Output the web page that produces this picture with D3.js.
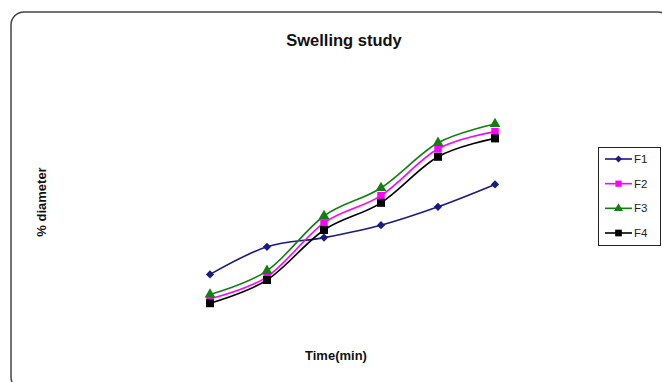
<!DOCTYPE html>
<html>
<head>
<meta charset="utf-8">
<script src="https://cdnjs.cloudflare.com/ajax/libs/d3/7.8.5/d3.min.js"></script>
<style>
  html, body { margin: 0; padding: 0; background: #fff; }
  svg { display: block; }
  text { font-family: "Liberation Sans", Arial, sans-serif; }
</style>
</head>
<body>
<svg id="chart" width="662" height="382"></svg>
<script>
// Sampling times (min) and swelling (% diameter) for each formulation
const times = [15, 30, 45, 60, 75, 90];
const f1 = [16.4, 23.3, 25.6, 28.7, 33.3, 38.9];
const f2 = [10.3, 15.8, 29.3, 36.1, 47.8, 52.1];
const f3 = [11.4, 17.3, 31.0, 38.0, 49.3, 54.0];
const f4 = [9.2, 15.0, 27.5, 34.3, 45.8, 50.4];
const seriesNames = ["F1", "F2", "F3", "F4"];
const yDomain = [0, 60];

// diamonds are drawn as squares turned by 45 degrees
const series = [
  { name: seriesNames[0], values: f1, color: "#1a1a80", symbol: d3.symbolSquare, size: 34, rot: 45 },
  { name: seriesNames[1], values: f2, color: "#ff00ff", symbol: d3.symbolSquare, size: 56, rot: 0 },
  { name: seriesNames[2], values: f3, color: "#118011", symbol: d3.symbolTriangle, size: 50, rot: 0 },
  { name: seriesNames[3], values: f4, color: "#000000", symbol: d3.symbolSquare, size: 64, rot: 0 }
];

const svg = d3.select("#chart");

// outer chart frame with rounded corners (runs past the right and bottom edges)
svg.append("rect")
  .attr("x", 11).attr("y", 12)
  .attr("width", 660).attr("height", 378)
  .attr("rx", 13).attr("ry", 13)
  .attr("fill", "#fff")
  .attr("stroke", "#444")
  .attr("stroke-width", 1.5);

const x = d3.scalePoint().domain(times).range([210, 495]);
const y = d3.scaleLinear().domain(yDomain).range([340, 100]);

svg.append("text")
  .attr("x", 344).attr("y", 46)
  .attr("text-anchor", "middle")
  .attr("font-size", 16.5).attr("font-weight", "bold")
  .attr("fill", "#111")
  .text("Swelling study");

svg.append("text")
  .attr("x", 336).attr("y", 360)
  .attr("text-anchor", "middle")
  .attr("font-size", 13).attr("font-weight", "bold")
  .attr("fill", "#111")
  .text("Time(min)");

svg.append("text")
  .attr("transform", "translate(46,202) rotate(-90)")
  .attr("text-anchor", "middle")
  .attr("font-size", 13).attr("font-weight", "bold")
  .attr("fill", "#111")
  .text("% diameter");

const line = d3.line()
  .x((d, i) => x(times[i]))
  .y(d => y(d))
  .curve(d3.curveCardinal.tension(0));

const g = svg.append("g");

series.forEach(s => {
  g.append("path")
    .attr("d", line(s.values))
    .attr("fill", "none")
    .attr("stroke", s.color)
    .attr("stroke-width", 1.6);
});

series.forEach(s => {
  g.selectAll(null)
    .data(s.values)
    .join("path")
    .attr("transform", (d, i) => `translate(${x(times[i])},${y(d)}) rotate(${s.rot})`)
    .attr("d", d3.symbol().type(s.symbol).size(s.size))
    .attr("fill", s.color);
});

// legend
const legend = svg.append("g");
legend.append("rect")
  .attr("x", 598.5).attr("y", 147.5)
  .attr("width", 62).attr("height", 98)
  .attr("fill", "#fff")
  .attr("stroke", "#222")
  .attr("stroke-width", 1);

const ly = d3.scalePoint().domain(seriesNames).range([159, 233]);

series.forEach(s => {
  const yy = ly(s.name);
  legend.append("line")
    .attr("x1", 605).attr("x2", 632)
    .attr("y1", yy).attr("y2", yy)
    .attr("stroke", s.color).attr("stroke-width", 1.6);
  legend.append("path")
    .attr("transform", `translate(618.5,${yy}) rotate(${s.rot})`)
    .attr("d", d3.symbol().type(s.symbol).size(s.size * 0.7))
    .attr("fill", s.color);
  legend.append("text")
    .attr("x", 634).attr("y", yy + 4)
    .attr("font-size", 11.5)
    .attr("fill", "#222")
    .text(s.name);
});
</script>
</body>
</html>
